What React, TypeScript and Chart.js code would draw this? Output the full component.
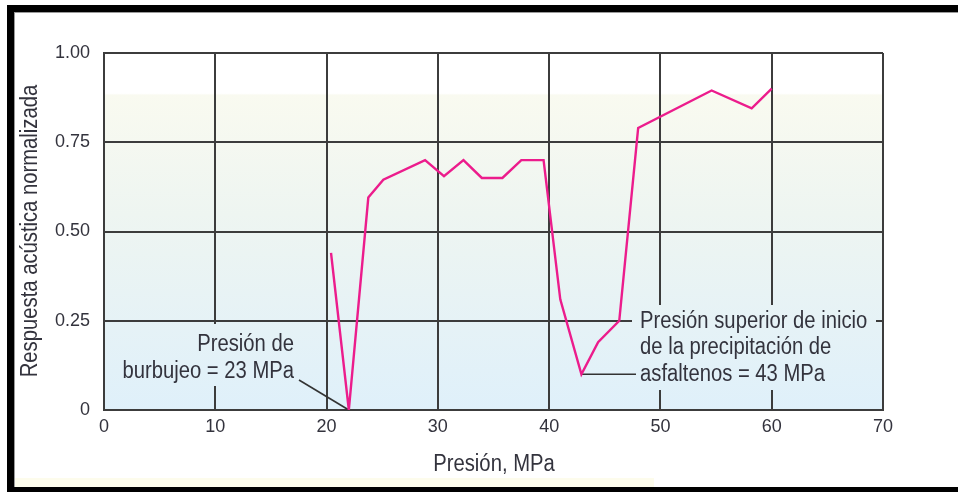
import React, { useEffect, useRef } from "react";
import { Chart, registerables } from "chart.js";

Chart.register(...registerables);

// Pressure (MPa) and normalized acoustic response along the measurement run
const pressureMPa = [20.4, 22.0, 23.75, 25.1, 28.85, 30.55, 32.3, 33.95, 35.8, 37.5, 39.5, 41.0, 42.9, 44.4, 46.3, 48.0, 54.6, 58.2, 60.0];
const acousticResponse = [0.44, 0.0, 0.595, 0.645, 0.7, 0.655, 0.7, 0.65, 0.65, 0.7, 0.7, 0.31, 0.1, 0.19, 0.25, 0.79, 0.895, 0.845, 0.9];

const xTicks = [0, 10, 20, 30, 40, 50, 60, 70];
const yTicks = [0, 0.25, 0.5, 0.75, 1.0];

const xTitle = "Presión, MPa";
const yTitle = "Respuesta acústica normalizada";

// Annotated points: bubble point and upper asphaltene onset pressure
const bubblePoint = { x: 22.0, y: 0.0 };
const bubbleLabel = ["Presión de", "burbujeo = 23 MPa"];
const onsetPoint = { x: 42.9, y: 0.1 };
const onsetLabel = ["Presión superior de inicio", "de la precipitación de", "asfaltenos = 43 MPa"];

const FONT = "'Liberation Sans', Arial, sans-serif";
const TEXT = "#33333d";
const GRID = "#3c3c3c";
const LINE = "#ec1c8c";
const SQUEEZE = 0.88; // narrow lettering for the chart texts

function plotGradient(ctx: CanvasRenderingContext2D, top: number, bottom: number) {
  const g = ctx.createLinearGradient(0, top, 0, bottom);
  g.addColorStop(0, "#ffffff");
  g.addColorStop(0.113, "#ffffff");
  g.addColorStop(0.118, "#f9faf0");
  g.addColorStop(0.45, "#eef5f1");
  g.addColorStop(1, "#dff0fa");
  return g;
}

// draws horizontally condensed text anchored at (x, y)
function narrowText(ctx: CanvasRenderingContext2D, text: string, x: number, y: number, align: CanvasTextAlign) {
  ctx.save();
  ctx.translate(x, y);
  ctx.scale(SQUEEZE, 1);
  ctx.textAlign = align;
  ctx.fillText(text, 0, 0);
  ctx.restore();
}

const decorPlugin = {
  id: "decor",
  beforeDraw(chart: any) {
    const { ctx, chartArea: a, width, height } = chart;
    ctx.save();
    ctx.fillStyle = "#ffffff";
    ctx.fillRect(0, 0, width, height);
    // faint cream strip along the bottom edge
    ctx.fillStyle = "#fdfcec";
    ctx.fillRect(14, 478, 640, 9);
    ctx.fillStyle = plotGradient(ctx, a.top, a.bottom);
    ctx.fillRect(a.left, a.top, a.right - a.left, a.bottom - a.top);
    ctx.restore();
  },
  beforeDatasetsDraw(chart: any) {
    const { ctx, chartArea: a, scales } = chart;
    const xs = scales.x, ys = scales.y;
    const grad = plotGradient(ctx, a.top, a.bottom);
    ctx.save();

    // label boxes hide the grid lines behind the annotation text
    ctx.fillStyle = grad;
    ctx.fillRect(112, 324, 187, 62);
    ctx.fillRect(632, 305, 244, 85);

    ctx.font = `23px ${FONT}`;
    ctx.fillStyle = TEXT;
    ctx.textBaseline = "middle";

    // bubble point note
    narrowText(ctx, bubbleLabel[0], 294, 345, "right");
    narrowText(ctx, bubbleLabel[1], 294, 372, "right");
    ctx.strokeStyle = "#333333";
    ctx.lineWidth = 1.6;
    ctx.beginPath();
    ctx.moveTo(299, 380);
    ctx.lineTo(xs.getPixelForValue(bubblePoint.x), ys.getPixelForValue(bubblePoint.y));
    ctx.stroke();

    // onset pressure note
    narrowText(ctx, onsetLabel[0], 640, 322, "left");
    narrowText(ctx, onsetLabel[1], 640, 348, "left");
    narrowText(ctx, onsetLabel[2], 640, 375, "left");
    const oy = ys.getPixelForValue(onsetPoint.y);
    ctx.beginPath();
    ctx.moveTo(xs.getPixelForValue(onsetPoint.x), oy);
    ctx.lineTo(636, oy);
    ctx.stroke();

    // axis titles
    narrowText(ctx, xTitle, 494, 465, "center");
    ctx.translate(31, 231);
    ctx.rotate(-Math.PI / 2);
    narrowText(ctx, yTitle, 0, 0, "center");
    ctx.restore();
  },
  afterDraw(chart: any) {
    const { ctx, width, height } = chart;
    ctx.save();
    ctx.fillStyle = "#000000";
    ctx.fillRect(7, 5, width - 7, 7);
    ctx.fillRect(7, 5, 7, height - 5);
    ctx.fillRect(7, 487, width - 7, height - 487);
    ctx.fillStyle = "#9a9a9a";
    ctx.fillRect(14, 12, width - 14, 1);
    ctx.fillRect(14, 12, 1, 475);
    ctx.restore();
  },
};

export default function App() {
  const canvasRef = useRef<HTMLCanvasElement | null>(null);

  useEffect(() => {
    const canvas = canvasRef.current;
    if (!canvas) return;
    const chart = new Chart(canvas, {
      type: "line",
      data: {
        datasets: [
          {
            data: pressureMPa.map((p, i) => ({ x: p, y: acousticResponse[i] })),
            borderColor: LINE,
            borderWidth: 2.4,
            pointRadius: 0,
            tension: 0,
            fill: false,
          },
        ],
      },
      options: {
        animation: false,
        responsive: false,
        devicePixelRatio: 1,
        layout: { padding: { left: 14, right: 75, top: 53, bottom: 0 } },
        plugins: { legend: { display: false }, tooltip: { enabled: false } },
        scales: {
          x: {
            type: "linear",
            min: 0,
            max: 70,
            afterFit: (s: any) => { s.height = 82; },
            afterBuildTicks: (s: any) => { s.ticks = xTicks.map((v) => ({ value: v })); },
            ticks: { font: { family: FONT, size: 18 }, color: TEXT, padding: 6, maxRotation: 0 },
            grid: { color: GRID, lineWidth: 2, drawTicks: false },
            border: { color: GRID, width: 2 },
          },
          y: {
            type: "linear",
            min: 0,
            max: 1,
            afterFit: (s: any) => { s.width = 90; },
            afterBuildTicks: (s: any) => { s.ticks = yTicks.map((v) => ({ value: v })); },
            ticks: {
              font: { family: FONT, size: 18 },
              color: TEXT,
              padding: 14,
              callback: (v: any) => (Number(v) === 0 ? "0" : Number(v).toFixed(2)),
            },
            grid: { color: GRID, lineWidth: 2, drawTicks: false },
            border: { color: GRID, width: 2 },
          },
        },
      },
      plugins: [decorPlugin],
    });
    return () => chart.destroy();
  }, []);

  return (
    <div style={{ position: "fixed", left: 0, top: 0, width: 958, height: 492 }}>
      <canvas ref={canvasRef} width={958} height={492} style={{ width: 958, height: 492, display: "block" }} />
    </div>
  );
}
